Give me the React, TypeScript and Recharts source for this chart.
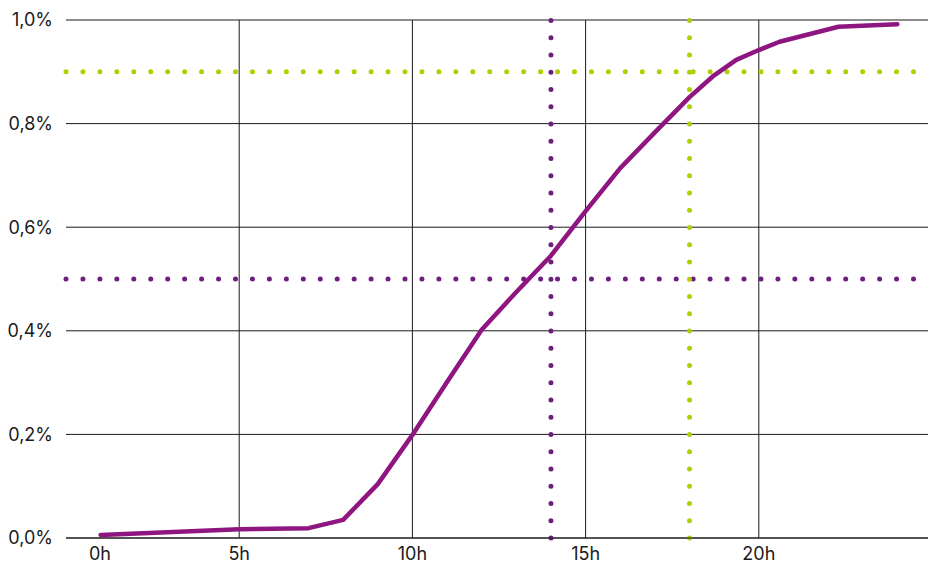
import { LineChart, Line, XAxis, YAxis, CartesianGrid, ReferenceLine } from 'recharts';

// hour of day and cumulative share (%)
const hours = [1, 5, 7, 8, 9, 10, 11, 12, 13, 14, 15, 16, 17, 18, 18.67, 19.35, 20, 20.6, 22.3, 24];
const shares = [0.006, 0.017, 0.019, 0.035, 0.104, 0.199, 0.301, 0.402, 0.475, 0.545, 0.631, 0.714, 0.783, 0.851, 0.891, 0.923, 0.942, 0.958, 0.987, 0.992];

const xTicks = [0, 5, 10, 15, 20];
const yTicks = [0, 0.2, 0.4, 0.6, 0.8, 1.0];

const markerPurple = { x: 14, y: 0.5 };
const markerGreen = { x: 18, y: 0.9 };

const data = hours.map((h, i) => ({ hour: h, share: shares[i] }));

const LINE = '#8f1680';
const PURPLE = '#6c1f7d';
const GREEN = '#b4cc00';
const INK = '#1a1a1a';
const FONT = 'Inter, "Noto Sans", sans-serif';

const fmtPct = (v: number) => v.toFixed(1).replace('.', ',') + '%';

function HourTick({ x, y, payload }: any) {
  // first label sits a little to the right in the original
  const dx = payload.value === 0 ? 34 : 0;
  return (
    <text x={x + dx} y={y} dy="0.71em" textAnchor="middle" fill={INK} fontSize={18} fontFamily={FONT}>
      {payload.value}h
    </text>
  );
}

export default function App() {
  return (
    <div style={{ position: 'absolute', left: 0, top: 0, width: 928, height: 569, overflow: 'hidden', background: '#fff' }}>
      <LineChart width={940} height={569} data={data} margin={{ top: 20, right: 8, left: 0, bottom: 0 }}>
        <CartesianGrid stroke={INK} strokeWidth={1} verticalValues={[5, 10, 15, 20]} horizontalValues={yTicks} />
        <XAxis
          dataKey="hour"
          type="number"
          domain={[0, 25]}
          ticks={xTicks}
          height={31}
          axisLine={{ stroke: INK }}
          tickLine={false}
          tickMargin={3}
          tick={<HourTick />}
        />
        <YAxis
          type="number"
          domain={[0, 1]}
          ticks={yTicks}
          width={66}
          axisLine={false}
          tickLine={false}
          tickMargin={7}
          tickFormatter={fmtPct}
          tick={{ fill: INK, fontSize: 18, fontFamily: FONT }}
        />
        <ReferenceLine y={markerPurple.y} stroke={PURPLE} strokeWidth={5} strokeDasharray="0 16.95" strokeLinecap="round" />
        <ReferenceLine y={markerGreen.y} stroke={GREEN} strokeWidth={5} strokeDasharray="0 16.95" strokeLinecap="round" />
        <ReferenceLine x={markerPurple.x} stroke={PURPLE} strokeWidth={5} strokeDasharray="0 17.25" strokeLinecap="round" />
        <ReferenceLine x={markerGreen.x} stroke={GREEN} strokeWidth={5} strokeDasharray="0 17.25" strokeLinecap="round" />
        <Line
          type="linear"
          dataKey="share"
          stroke={LINE}
          strokeWidth={4.5}
          strokeLinecap="round"
          strokeLinejoin="round"
          dot={false}
          isAnimationActive={false}
        />
      </LineChart>
    </div>
  );
}
